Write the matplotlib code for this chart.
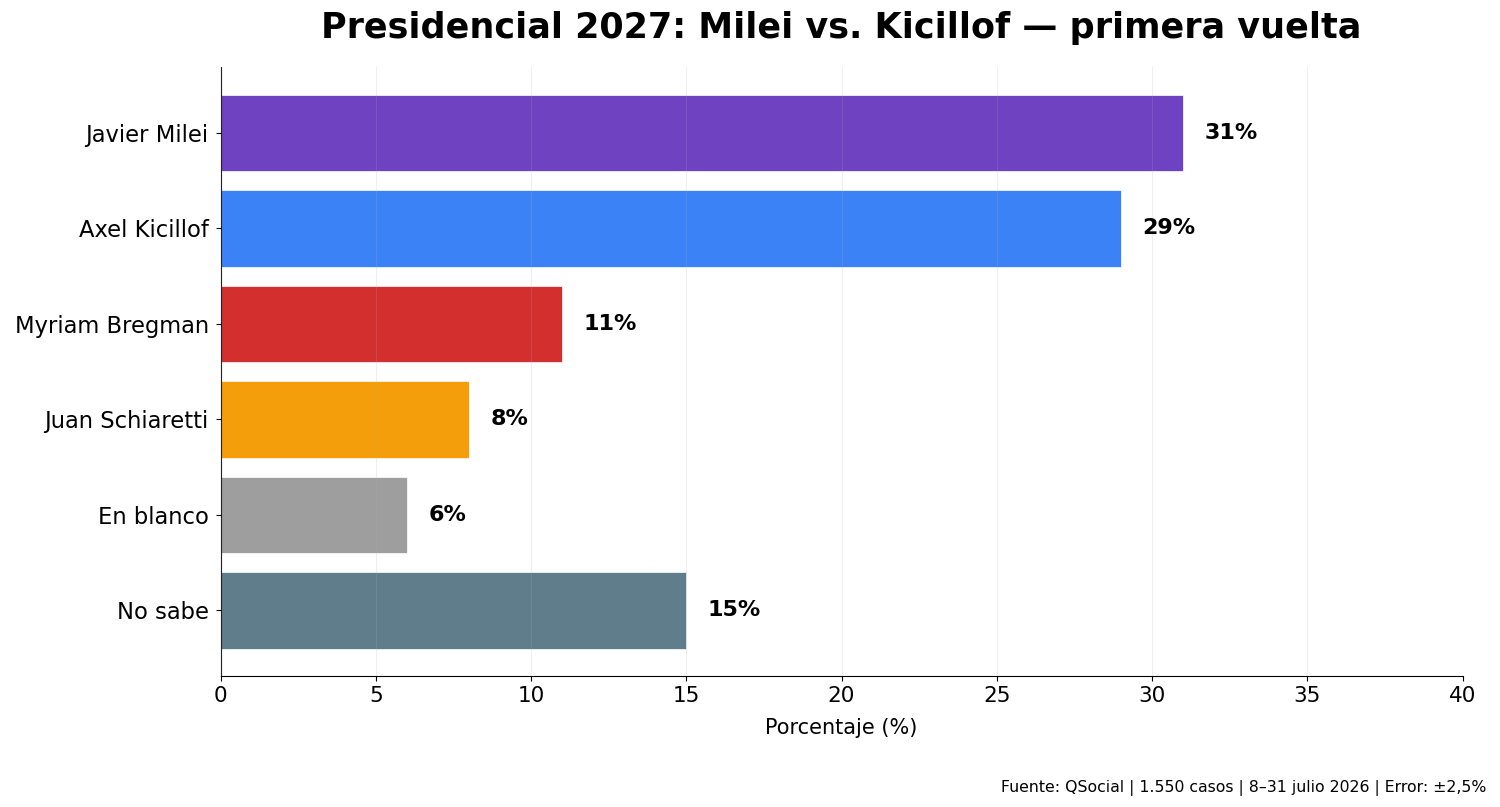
import matplotlib.pyplot as plt

candidatos = ['Javier Milei', 'Axel Kicillof', 'Myriam Bregman', 'Juan Schiaretti', 'En blanco', 'No sabe']
porcentajes = [31, 29, 11, 8, 6, 15]
colores = ['#6F42C1', '#3B82F6', '#D32F2F', '#F59E0B', '#9E9E9E', '#607D8B']

fig = plt.figure(figsize=(15, 8.07), dpi=100)
ax = fig.add_axes([0.147, 0.162, 0.828, 0.755])

y = list(range(len(candidatos)))
ax.barh(y, porcentajes, color=colores, height=0.8, edgecolor='white', linewidth=0.5)
ax.invert_yaxis()
ax.set_yticks(y)
ax.set_yticklabels(candidatos, fontsize=16.3)
ax.tick_params(axis='y', pad=5)
ax.set_xlim(0, 40)
ax.tick_params(axis='x', labelsize=15.5)

for i, v in enumerate(porcentajes):
    ax.text(v + 0.7, i, f'{v}%', va='center', ha='left', fontsize=16, fontweight='bold')

ax.set_xlabel('Porcentaje (%)', fontsize=15, labelpad=9)
ax.set_title('Presidencial 2027: Milei vs. Kicillof — primera vuelta',
             fontsize=25.2, fontweight='bold', pad=21)
ax.grid(axis='x', alpha=0.2)
ax.set_axisbelow(False)
ax.spines['top'].set_visible(False)
ax.spines['right'].set_visible(False)

fig.text(0.991, 0.014, 'Fuente: QSocial | 1.550 casos | 8–31 julio 2026 | Error: ±2,5%',
         ha='right', va='bottom', fontsize=11.3)

fig.savefig('out.png', dpi=100)
